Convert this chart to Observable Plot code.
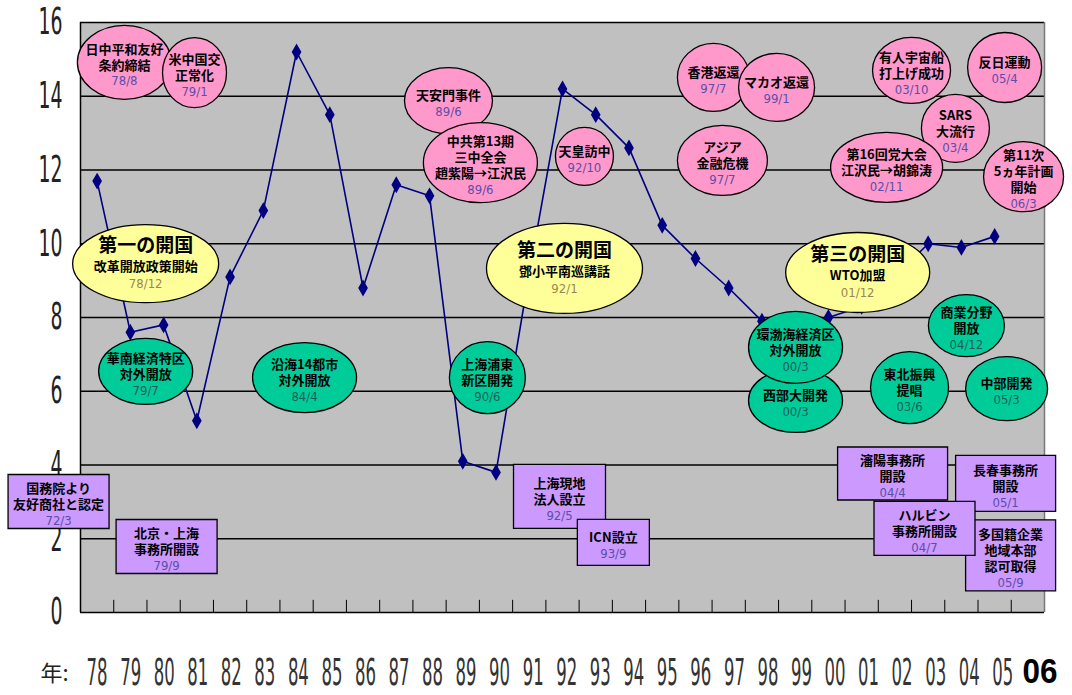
<!DOCTYPE html>
<html><head><meta charset="utf-8">
<script src="https://cdn.jsdelivr.net/npm/d3@7"></script>
<script src="https://cdn.jsdelivr.net/npm/@observablehq/plot@0.6"></script>
<style>
body{margin:0;background:#fff;}
#chart{width:1072px;height:695px;overflow:hidden;}
</style></head><body><div id="chart"></div>
<script>
// ---- data ----
const years = ["78","79","80","81","82","83","84","85","86","87","88","89","90","91","92","93","94","95","96","97","98","99","00","01","02","03","04","05","06"];
const growth = [11.7,7.6,7.8,5.2,9.1,10.9,15.2,13.5,8.8,11.6,11.3,4.1,3.8,9.2,14.2,13.5,12.6,10.5,9.6,8.8,7.9,7.6,8.0,8.3,9.1,10.0,9.9,10.2];
const yTicks = [0,2,4,6,8,10,12,14,16];

// annotation texts: [kind, lines, date]
const notes = [
  ["pink", ["日中平和友好","条約締結"], "78/8"],
  ["pink", ["米中国交","正常化"], "79/1"],
  ["pink", ["天安門事件"], "89/6"],
  ["pink", ["中共第13期","三中全会","趙紫陽→江沢民"], "89/6"],
  ["pink", ["天皇訪中"], "92/10"],
  ["pink", ["香港返還"], "97/7"],
  ["pink", ["マカオ返還"], "99/1"],
  ["pink", ["アジア","金融危機"], "97/7"],
  ["pink", ["有人宇宙船","打上げ成功"], "03/10"],
  ["pink", ["反日運動"], "05/4"],
  ["pink", ["SARS","大流行"], "03/4"],
  ["pink", ["第16回党大会","江沢民→胡錦涛"], "02/11"],
  ["pink", ["第11次","5ヵ年計画","開始"], "06/3"],
  ["yellow", ["第一の開国","改革開放政策開始"], "78/12"],
  ["yellow", ["第二の開国","鄧小平南巡講話"], "92/1"],
  ["yellow", ["第三の開国","WTO加盟"], "01/12"],
  ["green", ["華南経済特区","対外開放"], "79/7"],
  ["green", ["沿海14都市","対外開放"], "84/4"],
  ["green", ["上海浦東","新区開発"], "90/6"],
  ["green", ["西部大開発"], "00/3"],
  ["green", ["環渤海経済区","対外開放"], "00/3"],
  ["green", ["商業分野","開放"], "04/12"],
  ["green", ["東北振興","提唱"], "03/6"],
  ["green", ["中部開発"], "05/3"],
  ["box", ["国務院より","友好商社と認定"], "72/3"],
  ["box", ["北京・上海","事務所開設"], "79/9"],
  ["box", ["上海現地","法人設立"], "92/5"],
  ["box", ["ICN設立"], "93/9"],
  ["box", ["瀋陽事務所","開設"], "04/4"],
  ["box", ["長春事務所","開設"], "05/1"],
  ["box", ["多国籍企業","地域本部","認可取得"], "05/9"],
  ["box", ["ハルビン","事務所開設"], "04/7"]
];
// annotation placement: [x (year index), y (value), width px, height px]
const placement = [
  [1.32,14.92,94,74],[3.43,14.64,64,70],[11.07,13.88,88,66],[12.03,12.20,114,80],
  [15.16,12.37,58,58],[19.04,14.51,72,68],[20.94,14.24,76,68],[19.31,12.26,90,70],
  [25.0,14.70,78,66],[27.80,14.78,74,70],[26.32,13.13,68,68],[24.25,12.07,112,70],
  [28.37,11.82,80,70],
  [1.96,9.46,146,78],[14.56,9.33,156,90],[23.38,9.22,144,80],
  [1.96,6.54,94,66],[6.74,6.37,104,70],[12.24,6.37,76,72],[21.51,5.75,94,64],
  [21.51,7.19,94,72],[26.65,7.78,76,62],[24.94,6.10,78,72],[27.86,6.07,82,64],
  [-0.66,3.01,101,54],[2.59,1.79,101,54],[14.41,3.15,92,64],[16.03,1.90,72,46],
  [24.43,3.77,110,53],[27.83,3.50,100,56],[27.98,1.55,90,71],[25.39,2.28,101,54]
];

// ---- styles ----
const style = {
  pink:   {fill:"#ff99cc", date:"#5a4ea8"},
  yellow: {fill:"#ffff99", date:"#9a8656"},
  green:  {fill:"#00cc99", date:"#1f5e58"},
  box:    {fill:"#cc99ff", date:"#5a4ea8"}
};
function ellipseSym(w, h) {
  const rx = w/2, ry = h/2, k = 0.5523;
  return {draw(c) {
    c.moveTo(rx, 0);
    c.bezierCurveTo(rx, ry*k, rx*k, ry, 0, ry);
    c.bezierCurveTo(-rx*k, ry, -rx, ry*k, -rx, 0);
    c.bezierCurveTo(-rx, -ry*k, -rx*k, -ry, 0, -ry);
    c.bezierCurveTo(rx*k, -ry, rx, -ry*k, rx, 0);
    c.closePath();
  }};
}
function boxSym(w, h) { return {draw(c) { c.rect(-w/2, -h/2, w, h); }}; }

const series = growth.map((v, i) => ({i: i + 0.5, v}));
const CJK = "Noto Sans CJK JP, sans-serif";
const NARROW = "Liberation Sans Narrow, DejaVu Sans Condensed, sans-serif";
const LH = 16;

const noteMarks = [];
notes.forEach(([kind, lines, date], k) => {
  const [x, y, w, h] = placement[k];
  const d = [{x, y}];
  const st = style[kind];
  noteMarks.push(Plot.dot(d, {x: "x", y: "y", symbol: kind === "box" ? boxSym(w, h) : ellipseSym(w, h),
    fill: st.fill, stroke: "#000", strokeWidth: 1.3}));
  if (kind === "yellow") {
    noteMarks.push(Plot.text(d, {x: "x", y: "y", text: () => lines[0], dy: -18, fontSize: 19, fontWeight: "bold", fontFamily: CJK, fill: "#000"}));
    noteMarks.push(Plot.text(d, {x: "x", y: "y", text: () => lines[1], dy: 3, fontSize: 13, fontWeight: "bold", fontFamily: CJK, fill: "#000"}));
    noteMarks.push(Plot.text(d, {x: "x", y: "y", text: () => date, dy: 20, fontSize: 13, fontFamily: NARROW, fill: st.date}));
  } else {
    const n = lines.length;
    noteMarks.push(Plot.text(d, {x: "x", y: "y", text: () => lines.join("\n"), lineAnchor: "middle", lineHeight: LH/13,
      dy: -LH/2 + 2.5, fontSize: 13, fontWeight: "bold", fontFamily: CJK, fill: "#000"}));
    noteMarks.push(Plot.text(d, {x: "x", y: "y", text: () => date, dy: n*LH/2 + 3, fontSize: 13,
      fontFamily: NARROW, fill: st.date}));
  }
});

const chart = Plot.plot({
  width: 1072, height: 695,
  marginLeft: 80, marginRight: 28, marginTop: 22, marginBottom: 83,
  style: {background: "transparent", overflow: "visible"},
  x: {domain: [0, years.length], ticks: years.map((_, i) => i + 0.5), tickFormat: d => years[Math.floor(d)],
      tickSize: 0, tickPadding: 46, label: null},
  y: {domain: [0, 16], ticks: yTicks, tickSize: 0, tickPadding: 18, label: null},
  marks: [
    Plot.frame({fill: "#c0c0c0", stroke: null}),
    Plot.ruleY(yTicks.filter(d => d > 0), {stroke: "#000", strokeWidth: 1.4}),
    Plot.ruleX(d3.range(years.length + 1), {y1: 0, y2: 0.33, stroke: "#000", strokeWidth: 1}),
    Plot.ruleX([years.length], {stroke: "#777", strokeWidth: 1.5}),
    Plot.ruleX([0], {stroke: "#000", strokeWidth: 1.5}),
    Plot.ruleY([0], {stroke: "#000", strokeWidth: 1.5}),
    Plot.line(series, {x: "i", y: "v", stroke: "#000080", strokeWidth: 1.6}),
    Plot.dot(series, {x: "i", y: "v", symbol: "diamond", r: 4.2, fill: "#000080", stroke: "#000080"}),
    ...noteMarks,
    Plot.text(["年:"], {frameAnchor: "bottom-left", dx: -40, dy: 68, fontSize: 22, fontFamily: CJK, fill: "#222"})
  ]
});
document.getElementById("chart").appendChild(chart);

// condense tick labels like the original (textLength keeps Plot's positioning)
function axisTexts(dim) {
  let s = chart.querySelectorAll(`g[aria-label="${dim}-axis tick label"] text`);
  if (!s.length) s = chart.querySelectorAll(`g[aria-label="${dim}-axis"] text`);
  return Array.from(s);
}
axisTexts("y").forEach(t => {
  t.setAttribute("font-size", 37);
  t.setAttribute("font-family", NARROW);
  t.setAttribute("fill", "#222");
  t.setAttribute("textLength", 12 * t.textContent.length);
  t.setAttribute("lengthAdjust", "spacingAndGlyphs");
});
const xt = axisTexts("x");
xt.forEach((t, i) => {
  if (i === xt.length - 1) {
    t.setAttribute("font-size", 35);
    t.setAttribute("font-weight", "bold");
    t.setAttribute("font-family", "Liberation Sans, Arial, sans-serif");
    t.setAttribute("fill", "#000");
    t.setAttribute("textLength", 35);
    t.setAttribute("dx", 12);
  } else {
    t.setAttribute("font-size", 38);
    t.setAttribute("font-family", NARROW);
    t.setAttribute("fill", "#333");
    t.setAttribute("textLength", 21);
    t.setAttribute("dx", (i * 0.3).toFixed(1));
  }
  t.setAttribute("lengthAdjust", "spacingAndGlyphs");
});
</script></body></html>
